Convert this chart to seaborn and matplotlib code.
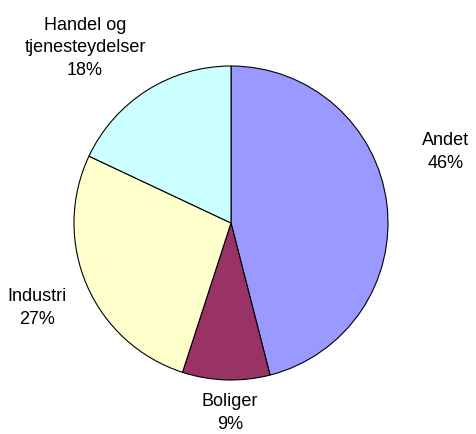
import matplotlib
matplotlib.use("Agg")
import matplotlib.pyplot as plt
import seaborn as sns

sns.set_theme(style="white")
plt.rcParams['font.family'] = ['Liberation Sans', 'DejaVu Sans']

# andeler i prosent, med klokka fra toppen
kategorier = ["Andet", "Boliger", "Industri", "Handel og\ntjenesteydelser"]
andeler = [46, 9, 27, 18]
farger = ["#9999FF", "#993366", "#FFFFCC", "#CCFFFF"]

# etikettplassering relativt til sentrum (piksler)
etikett_dx = [215, -1, -194, -146]
etikett_dy = [72, -189, -84, 176]

fig = plt.figure(figsize=(4.77, 4.35), dpi=100)
ax = fig.add_axes([0, 0, 1, 1])

cx, cy, r = 231, 435 - 224, 157
ax.pie(andeler, colors=farger, startangle=90, counterclock=False,
       center=(cx, cy), radius=r, frame=True,
       wedgeprops=dict(edgecolor="black", linewidth=0.8))
ax.set_xlim(0, 477)
ax.set_ylim(0, 435)
ax.set_aspect("equal")
ax.axis("off")

for navn, p, dx, dy in zip(kategorier, andeler, etikett_dx, etikett_dy):
    ax.text(cx + dx, cy + dy, f"{navn}\n{p}%", ha="center", va="center",
            fontsize=13, linespacing=1.45, color="black")

fig.savefig("out.png", dpi=100)
